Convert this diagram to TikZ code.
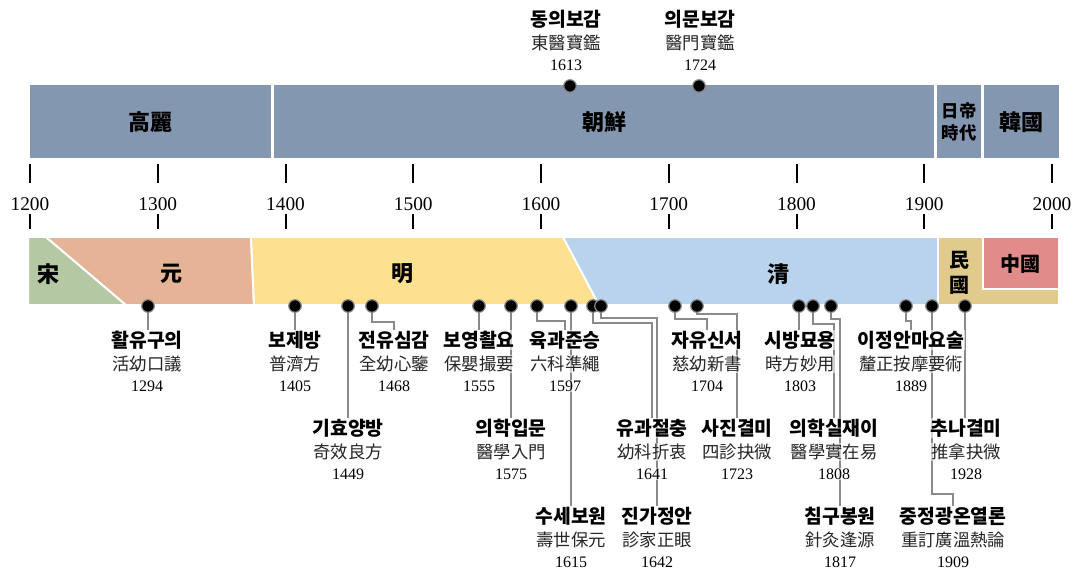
\documentclass[tikz,border=0pt]{standalone}
\usepackage{fontspec}
\setmainfont{Liberation Serif}
\newfontfamily\kr{Noto Sans CJK KR}
\usetikzlibrary{backgrounds}
\definecolor{korbar}{RGB}{132,151,176}
\definecolor{song}{RGB}{180,200,163}
\definecolor{yuan}{RGB}{229,180,150}
\definecolor{ming}{RGB}{254,224,145}
\definecolor{qing}{RGB}{185,211,236}
\definecolor{minguo}{RGB}{224,203,140}
\definecolor{zhongguo}{RGB}{225,139,139}
\definecolor{conngray}{RGB}{138,138,138}
\tikzset{
  cnbar/.style={draw=white, line width=1.5pt},
  barlab/.style={font=\kr\bfseries\fontsize{16.5}{18.5}\selectfont, text=black, align=center, inner sep=0pt},
  midbarlab/.style={font=\kr\bfseries\fontsize{15}{18.5}\selectfont, text=black, align=center, inner sep=0pt},
  smallbarlab/.style={font=\kr\bfseries\fontsize{13}{16}\selectfont, text=black, align=center, inner sep=0pt},
  tickline/.style={draw=black, line width=1.5pt},
  axisyear/.style={font=\fontsize{14.5}{16}\selectfont, inner sep=0pt},
  evdot/.style={circle, fill=black, draw=conngray, line width=0.9pt, minimum size=9.4pt, inner sep=0pt},
  evtitle/.style={font=\kr\bfseries\fontsize{14.5}{16}\selectfont, fill=white, fill opacity=0.6, text opacity=1, inner sep=0.5pt},
  evhanja/.style={font=\kr\fontsize{13}{14}\selectfont, text=black!85, fill=white, fill opacity=0.6, text opacity=1, inner sep=0.5pt},
  evyear/.style={font=\fontsize{12}{13}\selectfont, fill=white, fill opacity=0.6, text opacity=1, inner sep=0.5pt},
  connline/.style={draw=conngray, line width=1.9pt},
}
\newcommand{\evlabel}[6]{%
  \node[evtitle] (e#1) at (#2,#3) {#4};
  \node[evhanja] (h#1) at (#2,#3+24) {#5};
  \node[evyear] (y#1) at (#2,#3+46) {#6};
}
\begin{document}
\begin{tikzpicture}[x=0.75pt,y=-0.75pt]
\useasboundingbox (0,0) rectangle (1074,570);

% Korean dynasties
\fill[korbar] (30,85) rectangle (271,158);
\fill[korbar] (274,85) rectangle (934,158);
\fill[korbar] (937,85) rectangle (981,158);
\fill[korbar] (984,85) rectangle (1059,158);
\node[barlab] (goryeo) at (150,122) {高麗};
\node[barlab] (joseon) at (604,122) {朝鮮};
\node[smallbarlab] (ilje) at (959,122) {日帝\\時代};
\node[barlab] (hanguk) at (1021,122) {韓國};

% axis
\foreach \yr in {1200,1300,...,2000} {
  \pgfmathsetmacro\xx{30+1.2775*(\yr-1200)}
  \draw[tickline] (\xx,164) -- (\xx,183);
  \node[axisyear] (yr\yr) at (\xx,204) {\yr};
  \draw[tickline] (\xx,214) -- (\xx,229);
}

% Chinese dynasties
\path[cnbar, fill=song] (28,237) -- (46,237) -- (126,305) -- (28,305) -- cycle;
\path[cnbar, fill=yuan] (46,237) -- (251,237) -- (254,305) -- (126,305) -- cycle;
\path[cnbar, fill=ming] (251,237) -- (563,237) -- (599,305) -- (254,305) -- cycle;
\path[cnbar, fill=qing] (563,237) -- (938,237) -- (938,305) -- (599,305) -- cycle;
\path[cnbar, fill=minguo] (938,237) -- (1059,237) -- (1059,305) -- (938,305) -- cycle;
\path[cnbar, fill=zhongguo] (983,237) -- (1059,237) -- (1059,289) -- (983,289) -- cycle;
\node[barlab] (song) at (48,274) {宋};
\node[barlab] (yuan) at (171,274) {元};
\node[barlab] (ming) at (402,274) {明};
\node[barlab] (qing) at (778,274) {清};
\node[midbarlab] (minguo) at (959,273) {民\\國};
\node[midbarlab] (zhongguo) at (1020,264) {中國};

% top events
\node[evdot] (d1613) at (570,86) {};
\node[evdot] (d1724) at (699,86) {};
\evlabel{1613}{566}{19}{동의보감}{東醫寶鑑}{1613}
\evlabel{1724}{700}{19}{의문보감}{醫門寶鑑}{1724}

% bottom event dots
\node[evdot] (d1294) at (148,306) {};
\node[evdot] (d1405) at (295,306) {};
\node[evdot] (d1449) at (348,306) {};
\node[evdot] (d1468) at (372,306) {};
\node[evdot] (d1555) at (479,306) {};
\node[evdot] (d1575) at (511,306) {};
\node[evdot] (d1597) at (537,306) {};
\node[evdot] (d1615) at (571,306) {};
\node[evdot] (d1641) at (593,306) {};
\node[evdot] (d1642) at (601,306) {};
\node[evdot] (d1704) at (675,306) {};
\node[evdot] (d1723) at (697,306) {};
\node[evdot] (d1803) at (799,306) {};
\node[evdot] (d1808) at (813,306) {};
\node[evdot] (d1817) at (831,306) {};
\node[evdot] (d1889) at (906,306) {};
\node[evdot] (d1909) at (932,306) {};
\node[evdot] (d1928) at (965,306) {};

% row 1
\evlabel{1294}{147}{340}{활유구의}{活幼口議}{1294}
\evlabel{1405}{295}{340}{보제방}{普濟方}{1405}
\evlabel{1468}{394}{340}{전유심감}{全幼心鑒}{1468}
\evlabel{1555}{479}{340}{보영촬요}{保嬰撮要}{1555}
\evlabel{1597}{565}{340}{육과준승}{六科準繩}{1597}
\evlabel{1704}{707}{340}{자유신서}{慈幼新書}{1704}
\evlabel{1803}{800}{340}{시방묘용}{時方妙用}{1803}
\evlabel{1889}{911}{340}{이정안마요술}{釐正按摩要術}{1889}
% row 2
\evlabel{1449}{348}{428}{기효양방}{奇效良方}{1449}
\evlabel{1575}{511}{428}{의학입문}{醫學入門}{1575}
\evlabel{1641}{652}{428}{유과절충}{幼科折衷}{1641}
\evlabel{1723}{737}{428}{사진결미}{四診抉微}{1723}
\evlabel{1808}{834}{428}{의학실재이}{醫學實在易}{1808}
\evlabel{1928}{966}{428}{추나결미}{推拿抉微}{1928}
% row 3
\evlabel{1615}{571}{516}{수세보원}{壽世保元}{1615}
\evlabel{1642}{657}{516}{진가정안}{診家正眼}{1642}
\evlabel{1817}{840}{516}{침구봉원}{針灸逢源}{1817}
\evlabel{1909}{953}{516}{중정광온열론}{重訂廣溫熱論}{1909}

\begin{pgfonlayer}{background}
\draw[connline] (d1294.center) -- (d1294.center |- e1294.north);
\draw[connline] (d1405.center) -- (e1405.north);
\draw[connline] (d1449.center) -- (e1449.north);
\draw[connline] (d1468.center) -- ++(0,16) -| (e1468.north);
\draw[connline] (d1555.center) -- (e1555.north);
\draw[connline] (d1575.center) -- (e1575.north);
\draw[connline] (d1597.center) -- ++(0,15) -| (e1597.north);
\draw[connline] (d1615.center) -- (e1615.north);
\draw[connline] (d1641.center) -- ++(0,17) -| (e1641.north);
\draw[connline] (d1642.center) -- ++(0,12) -| (e1642.north);
\draw[connline] (d1704.center) -- ++(0,13) -| (e1704.north);
\draw[connline] (d1723.center) -- ++(0,8) -| (e1723.north);
\draw[connline] (d1803.center) -- (d1803.center |- e1803.north);
\draw[connline] (d1808.center) -- ++(0,18) -| (e1808.north);
\draw[connline] (d1817.center) -- ++(0,13) -| (e1817.north);
\draw[connline] (d1889.center) -- ++(0,15) -| (e1889.north);
\draw[connline] (d1909.center) -- ++(0,188) -| (e1909.north);
\draw[connline] (d1928.center) -- (d1928.center |- e1928.north);
\end{pgfonlayer}
\end{tikzpicture}
\end{document}
